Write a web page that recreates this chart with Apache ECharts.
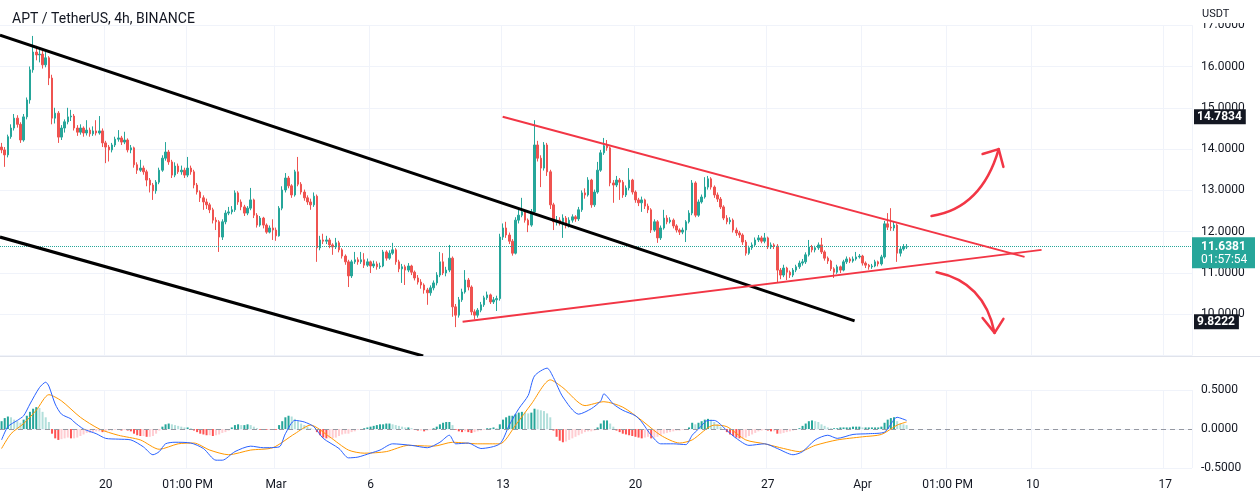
<!DOCTYPE html>
<html>
<head>
<meta charset="utf-8">
<script src="https://cdn.jsdelivr.net/npm/echarts@6/dist/echarts.min.js"></script>
<style>
html,body{margin:0;padding:0;background:#ffffff;}
#c{width:1260px;height:501px;}
</style>
</head>
<body>
<div id="c"></div>
<script>
// ---------- DATA ----------
const chartTitle = 'APT / TetherUS, 4h, BINANCE';
const slotCount = 378;                 // 4h slots shown on the time axis (Feb 14 12:00 .. Apr 18 12:00)
const startTime = Date.UTC(2023, 1, 14, 12);
const timeTicks = [[33,'20'],[59,'01:00 PM'],[87,'Mar'],[117,'6'],[159,'13'],[201,'20'],[243,'27'],[273,'Apr'],[300,'01:00 PM'],[327,'10'],[369,'17']];

const opens = [
14.05,13.98,13.86,14.30,14.51,14.75,14.60,14.22,14.78,15.19,
15.92,16.35,16.28,16.30,16.04,16.21,15.72,14.75,14.87,14.29,
14.51,14.66,14.78,14.80,14.51,14.41,14.51,14.39,14.46,14.37,
14.44,14.39,14.44,14.15,14.05,13.98,14.10,14.24,14.27,14.17,
14.22,13.98,14.03,13.62,13.49,13.54,13.45,13.25,13.13,12.99,
13.20,13.49,13.78,13.93,13.69,13.37,13.59,13.45,13.49,13.37,
13.54,13.45,13.13,12.96,12.82,12.72,12.65,12.53,12.28,12.24,
11.87,12.24,12.45,12.48,12.53,12.94,12.72,12.60,12.45,12.57,
12.77,12.40,12.16,12.33,12.16,11.99,12.09,12.04,11.90,12.57,
13.01,13.30,13.11,12.89,13.45,13.15,12.96,12.82,12.72,12.65,
12.86,11.61,11.80,11.77,11.80,11.68,11.63,11.73,11.56,11.41,
11.27,10.93,11.27,11.32,11.27,11.32,11.19,11.27,11.17,11.22,
11.15,11.17,11.51,11.36,11.48,11.56,11.27,11.10,11.15,11.07,
11.17,11.02,10.88,10.78,10.71,10.59,10.52,10.64,10.76,10.95,
11.27,11.00,11.07,11.36,10.18,9.98,10.35,10.54,10.83,10.66,
10.06,9.98,10.10,10.23,10.40,10.47,10.30,10.35,10.38,11.87,
12.09,11.92,11.77,11.48,12.28,12.40,12.48,12.28,12.16,12.48,
14.10,13.78,13.54,14.10,13.45,12.65,12.24,12.28,12.24,12.33,
12.16,12.28,12.36,12.31,12.53,12.94,12.89,13.25,12.65,12.96,
13.49,13.91,14.08,14.03,13.18,13.13,13.25,13.20,12.89,13.06,
13.25,12.96,12.77,12.70,12.77,12.62,12.53,12.04,12.24,11.85,
12.09,12.33,12.24,12.28,12.14,12.04,11.99,12.04,12.24,12.45,
13.18,12.40,12.72,12.84,13.08,13.28,13.08,12.89,12.79,12.60,
12.33,12.24,12.28,12.04,11.97,11.92,11.75,11.48,11.61,11.68,
11.80,11.85,11.77,11.85,11.63,11.68,11.65,11.07,10.95,11.12,
11.02,10.95,11.07,11.15,11.24,11.27,11.44,11.63,11.56,11.61,
11.68,11.51,11.36,11.29,11.10,11.02,11.15,11.07,11.27,11.34,
11.29,11.34,11.39,11.41,11.24,11.19,11.15,11.17,11.27,11.22,
11.39,12.19,12.11,12.09,12.16,11.48,11.58,11.63];

const closes = [
13.98,13.86,14.30,14.51,14.75,14.60,14.22,14.78,15.19,15.92,
16.35,16.28,16.30,16.04,16.21,15.72,14.75,14.87,14.29,14.51,
14.66,14.78,14.80,14.51,14.41,14.51,14.39,14.46,14.37,14.44,
14.39,14.44,14.15,14.05,13.98,14.10,14.24,14.27,14.17,14.22,
13.98,14.03,13.62,13.49,13.54,13.45,13.25,13.13,12.99,13.20,
13.49,13.78,13.93,13.69,13.37,13.59,13.45,13.49,13.37,13.54,
13.45,13.13,12.96,12.82,12.72,12.65,12.53,12.28,12.24,11.87,
12.24,12.45,12.48,12.53,12.94,12.72,12.60,12.45,12.57,12.77,
12.40,12.16,12.33,12.16,11.99,12.09,12.04,11.90,12.57,13.01,
13.30,13.11,12.89,13.45,13.15,12.96,12.82,12.72,12.65,12.86,
11.61,11.80,11.77,11.80,11.68,11.63,11.73,11.56,11.41,11.27,
10.93,11.27,11.32,11.27,11.32,11.19,11.27,11.17,11.22,11.15,
11.17,11.51,11.36,11.48,11.56,11.27,11.10,11.15,11.07,11.17,
11.02,10.88,10.78,10.71,10.59,10.52,10.64,10.76,10.95,11.27,
11.00,11.07,11.36,10.18,9.98,10.35,10.54,10.83,10.66,10.06,
9.98,10.10,10.23,10.40,10.47,10.30,10.35,10.38,11.87,12.09,
11.92,11.77,11.48,12.28,12.40,12.48,12.28,12.16,12.48,14.10,
13.78,13.54,14.10,13.45,12.65,12.24,12.28,12.24,12.33,12.16,
12.28,12.36,12.31,12.53,12.94,12.89,13.25,12.65,12.96,13.49,
13.91,14.08,14.03,13.18,13.13,13.25,13.20,12.89,13.06,13.25,
12.96,12.77,12.70,12.77,12.62,12.53,12.04,12.24,11.85,12.09,
12.33,12.24,12.28,12.14,12.04,11.99,12.04,12.24,12.45,13.18,
12.40,12.72,12.84,13.08,13.28,13.08,12.89,12.79,12.60,12.33,
12.24,12.28,12.04,11.97,11.92,11.75,11.48,11.61,11.68,11.80,
11.85,11.77,11.85,11.63,11.68,11.65,11.07,10.95,11.12,11.02,
10.95,11.07,11.15,11.24,11.27,11.44,11.63,11.56,11.61,11.68,
11.51,11.36,11.29,11.10,11.02,11.15,11.07,11.27,11.34,11.29,
11.34,11.39,11.41,11.24,11.19,11.15,11.17,11.27,11.22,11.39,
12.19,12.11,12.09,12.16,11.48,11.58,11.63,11.6381];

const highs = [
14.15,14.05,14.35,14.60,14.85,14.82,14.65,14.85,15.25,16.00,
16.74,16.50,16.45,16.38,16.35,16.25,15.80,15.00,14.92,14.58,
14.72,15.00,14.95,14.85,14.58,14.60,14.55,14.70,14.52,14.55,
14.70,14.80,14.50,14.20,14.10,14.15,14.30,14.46,14.32,14.42,
14.26,14.10,14.06,13.68,13.74,13.60,13.50,13.30,13.18,13.25,
13.55,13.85,14.17,13.98,13.74,13.68,13.65,13.60,13.55,13.81,
13.60,13.50,13.18,13.00,12.88,12.80,12.70,12.58,12.35,12.28,
12.30,12.52,12.60,12.62,13.00,12.98,12.78,12.65,12.62,13.06,
12.80,12.45,12.38,12.36,12.20,12.15,12.30,12.10,12.62,13.10,
13.42,13.35,13.15,13.50,13.81,13.20,13.02,12.88,12.80,12.95,
12.90,11.90,11.95,11.90,11.85,11.72,11.85,11.78,11.60,11.45,
11.32,11.32,11.51,11.38,11.51,11.48,11.35,11.30,11.30,11.28,
11.25,11.56,11.55,11.55,11.73,11.60,11.32,11.22,11.20,11.24,
11.20,11.06,10.95,10.85,10.75,10.64,10.70,10.82,11.02,11.51,
11.48,11.15,11.68,11.40,10.25,10.42,10.62,11.07,10.88,10.70,
10.12,10.15,10.30,10.45,10.55,10.50,10.42,10.45,11.95,12.20,
12.24,11.98,11.82,12.35,12.55,12.82,12.52,12.32,12.55,14.70,
14.20,13.85,14.17,14.15,13.50,12.70,12.38,12.35,12.42,12.38,
12.35,12.42,12.40,12.60,13.00,13.05,13.32,13.28,13.02,13.69,
13.98,14.27,14.22,14.06,13.25,13.35,13.30,13.25,13.12,13.54,
13.28,13.00,12.82,12.85,12.80,12.68,12.57,12.30,12.28,12.15,
12.53,12.40,12.35,12.32,12.18,12.08,12.10,12.28,12.52,13.25,
13.22,12.78,12.90,13.32,13.35,13.32,13.12,12.95,12.84,12.64,
12.40,12.35,12.32,12.10,12.02,11.96,11.80,11.66,11.74,11.86,
11.92,11.90,11.97,11.88,11.74,11.72,11.70,11.12,11.20,11.15,
11.06,11.12,11.20,11.30,11.34,11.50,11.80,11.68,11.66,11.74,
11.85,11.55,11.40,11.32,11.14,11.20,11.18,11.32,11.40,11.38,
11.40,11.51,11.46,11.44,11.28,11.22,11.22,11.32,11.30,11.44,
12.26,12.45,12.57,12.25,12.20,11.64,11.70,11.70];

const lows = [
13.90,13.57,13.80,14.25,14.45,14.52,14.15,14.18,14.72,15.10,
15.85,16.15,16.10,15.95,15.98,15.55,14.60,14.62,14.15,14.22,
14.40,14.60,14.68,14.45,14.32,14.35,14.30,14.33,14.30,14.32,
14.33,14.35,14.05,13.66,13.70,13.92,14.05,14.18,14.10,14.12,
13.92,13.90,13.55,13.40,13.45,13.38,13.10,12.95,12.77,12.92,
13.15,13.45,13.72,13.62,13.30,13.32,13.40,13.38,13.30,13.32,
13.38,13.05,12.90,12.72,12.53,12.55,12.45,12.20,12.04,11.51,
11.80,12.18,12.40,12.42,12.48,12.65,12.52,12.38,12.40,12.52,
12.33,12.10,12.12,12.08,11.95,11.96,11.80,11.78,11.88,12.52,
12.95,13.05,12.82,12.85,13.10,12.90,12.75,12.65,12.53,12.60,
11.27,11.55,11.70,11.70,11.60,11.44,11.58,11.50,11.35,11.20,
10.66,10.88,11.22,11.20,11.22,11.12,11.15,11.00,11.12,11.08,
11.10,11.14,11.30,11.32,11.44,11.20,11.02,10.76,10.71,11.02,
10.95,10.82,10.72,10.62,10.50,10.23,10.45,10.58,10.70,10.90,
10.95,10.92,11.02,9.94,9.69,9.92,10.30,10.50,10.58,9.98,
9.88,9.92,10.05,10.18,10.35,10.25,10.25,10.08,10.33,11.80,
11.85,11.70,11.42,11.45,12.20,12.35,12.22,11.99,12.12,12.42,
13.70,13.08,13.48,13.35,12.55,12.04,12.15,12.15,11.85,12.08,
12.10,12.22,12.24,12.26,12.48,12.80,12.85,12.58,12.60,12.92,
13.45,13.86,13.96,13.10,12.70,13.08,12.77,12.82,12.84,13.00,
12.90,12.70,12.62,12.48,12.55,12.45,11.97,12.00,11.73,11.80,
12.05,12.18,12.20,12.08,11.98,11.92,11.94,11.75,12.20,12.40,
12.35,12.36,12.68,12.80,13.02,13.02,12.82,12.72,12.55,12.28,
12.18,12.18,11.98,11.90,11.85,11.68,11.42,11.44,11.56,11.64,
11.75,11.72,11.72,11.58,11.58,11.58,10.78,10.85,10.90,10.83,
10.88,10.90,11.02,11.10,11.18,11.22,11.40,11.50,11.50,11.56,
11.46,11.30,11.22,11.05,10.88,10.98,11.00,11.04,11.22,11.24,
11.25,11.30,11.35,11.18,11.12,11.08,11.10,11.14,11.16,11.18,
11.35,12.04,12.02,12.02,11.27,11.40,11.54,11.58];

// MACD histogram, one value per candle
const histValues = [
0.10,0.14,0.16,0.15,0.12,0.10,0.08,
0.12,0.17,0.22,0.26,0.28,0.27,0.22,
0.15,0.09,
-0.06,-0.12,-0.14,-0.13,-0.12,-0.11,-0.12,-0.12,-0.11,-0.09,-0.07,
-0.05,-0.05,-0.04,-0.03,-0.03,-0.04,-0.03,
-0.02,-0.02,-0.01,-0.01,-0.02,-0.01,-0.02,-0.03,
-0.06,-0.08,-0.09,-0.09,-0.10,-0.10,-0.09,-0.06,-0.02,
0.03,0.06,0.07,0.06,0.05,0.04,0.03,0.02,0.02,0.01,
-0.02,-0.04,-0.06,-0.07,-0.08,-0.08,-0.09,-0.08,-0.07,-0.05,-0.04,-0.02,
0.02,0.05,0.06,0.05,0.05,0.06,0.05,0.03,
0.01,-0.01,0.00,-0.01,-0.01,0.00,-0.01,
0.05,0.10,0.15,0.17,0.16,0.13,0.10,0.07,
0.05,0.03,0.01,0.00,-0.04,
-0.08,-0.11,-0.12,-0.12,-0.12,-0.11,-0.09,-0.07,-0.06,-0.06,-0.04,
-0.03,-0.01,0.00,0.01,0.02,0.03,0.04,
0.05,0.06,0.06,0.07,0.07,0.06,0.05,0.04,0.03,0.02,0.02,0.01,
-0.01,-0.02,-0.02,-0.03,-0.02,-0.01,0.01,0.03,
0.06,0.08,0.09,0.09,0.05,
-0.01,-0.03,-0.04,-0.03,-0.04,-0.05,-0.04,-0.03,-0.02,
-0.01,0.01,0.01,0.02,0.01,0.06,
0.12,0.15,0.17,0.17,0.19,0.21,0.22,0.21,0.20,0.21,
0.26,0.25,0.24,0.23,0.20,0.15,
-0.02,-0.10,-0.15,-0.17,-0.16,-0.14,-0.12,-0.10,-0.08,-0.06,-0.04,-0.03,-0.03,-0.02,
0.02,0.07,0.11,0.11,0.07,0.03,
-0.02,-0.04,-0.06,-0.07,-0.08,-0.09,-0.10,-0.11,-0.12,-0.11,-0.10,-0.12,-0.11,-0.10,
-0.08,-0.06,-0.05,-0.04,-0.03,-0.02,-0.02,-0.01,-0.01,
0.02,0.08,0.06,0.08,0.10,0.12,0.13,0.12,0.09,0.06,0.03,
-0.01,-0.04,-0.07,-0.09,-0.11,-0.12,-0.12,
-0.11,-0.09,-0.07,-0.05,-0.03,-0.02,-0.01,-0.02,
-0.03,-0.03,-0.06,-0.06,-0.05,-0.04,-0.03,-0.02,-0.01,0.01,
0.04,0.07,0.10,0.11,0.10,0.09,0.06,0.04,0.02,
0.01,0.01,0.01,0.02,0.02,0.02,0.02,0.03,0.03,0.03,0.02,0.02,0.02,0.02,0.02,0.02,0.03,
0.08,0.12,0.14,0.15,0.10,0.07,0.06,0.05];

// MACD line and signal line, [candle index, value] read at visible turning points
const macdPoints = [[0,-0.14],[2,0.03],[5,0.11],[7,0.17],[9,0.32],[12,0.53],[14,0.60],[15,0.55],[17,0.32],[19,0.19],[22,0.13],[23,0.09],[26,0.0],[30,-0.06],[33,-0.12],[37,-0.13],[41,-0.14],[45,-0.23],[48,-0.33],[50,-0.29],[52,-0.19],[55,-0.17],[60,-0.18],[64,-0.25],[68,-0.40],[70,-0.40],[74,-0.29],[79,-0.22],[83,-0.24],[88,-0.23],[90,-0.06],[93,0.11],[96,0.09],[99,0.03],[102,-0.12],[107,-0.25],[110,-0.37],[113,-0.36],[117,-0.31],[120,-0.27],[124,-0.19],[130,-0.21],[135,-0.24],[139,-0.17],[142,-0.08],[144,-0.19],[148,-0.18],[152,-0.25],[158,-0.19],[161,0.05],[164,0.26],[167,0.43],[169,0.68],[173,0.78],[175,0.66],[178,0.41],[183,0.19],[187,0.26],[190,0.36],[191,0.45],[194,0.32],[197,0.24],[201,0.17],[203,0.09],[206,-0.08],[209,-0.19],[213,-0.19],[217,-0.20],[219,-0.08],[221,0.0],[224,0.11],[226,0.11],[230,-0.02],[233,-0.12],[237,-0.21],[242,-0.19],[246,-0.25],[251,-0.33],[254,-0.29],[258,-0.14],[262,-0.08],[265,-0.12],[270,-0.07],[275,-0.06],[280,-0.04],[284,0.15],[287,0.11]];
const signalPoints = [[0,-0.25],[3,-0.06],[7,0.07],[11,0.24],[15,0.44],[19,0.36],[25,0.15],[31,0.0],[37,-0.08],[44,-0.14],[50,-0.26],[56,-0.19],[61,-0.18],[66,-0.27],[72,-0.33],[79,-0.27],[86,-0.24],[93,-0.06],[98,0.05],[104,-0.10],[110,-0.27],[115,-0.31],[122,-0.29],[129,-0.21],[137,-0.22],[143,-0.17],[151,-0.19],[158,-0.19],[163,0.05],[168,0.32],[174,0.63],[178,0.53],[185,0.30],[191,0.35],[197,0.28],[203,0.11],[209,-0.08],[215,-0.18],[219,-0.14],[226,0.05],[230,0.03],[236,-0.14],[242,-0.19],[248,-0.25],[253,-0.29],[258,-0.21],[265,-0.14],[273,-0.10],[279,-0.07],[284,0.05],[287,0.09]];

// Drawings: [candle index, price]
const blackUpperLine = [[-0.5,16.76],[270.5,9.84]];
const blackLowerLine = [[-0.5,11.87],[133.7,8.99]];
const redUpperLine = [[158.9,14.7834],[324.4,11.39]];
const redLowerLine = [[146.2,9.8222],[329.8,11.56]];
const upArrowCurve = [[294.9,12.38],[310.8,12.57],[316.2,14.00]];   // start, control, tip
const upArrowHead = [[311.1,13.88],[316.2,14.00],[317.7,13.57]];
const downArrowCurve = [[296.5,11.02],[311.7,10.78],[314.9,9.55]];
const downArrowHead = [[311.1,9.91],[314.9,9.55],[317.7,9.89]];

const lastPrice = 11.6381;
const countdown = '01:57:54';
const markedPrices = [14.7834, 9.8222];

// ---------- CHART ----------
const FONT = 'Roboto, "Open Sans", "Liberation Sans", sans-serif';
const TXT = '#131722';
const GRIDC = '#f0f3fa';
const UP = '#26a69a', DOWN = '#ef5350';
const RED = '#f23645';

const categories = [];
for (let i = 0; i < slotCount; i++) {
  categories.push(new Date(startTime + i * 4 * 3600 * 1000).toISOString());
}
const tickMap = new Map(timeTicks);

const candleData = opens.map((o, i) => [o, closes[i], lows[i], highs[i]]);

function histColor(i) {
  const v = histValues[i], p = i > 0 ? histValues[i - 1] : v;
  if (v >= 0) return v >= p ? '#26a69a' : '#b2dfdb';
  return v < p ? '#ff5252' : '#ffcdd2';
}

const chart = echarts.init(document.getElementById('c'), null, {renderer: 'canvas'});

const catAxisBase = {
  type: 'category', data: categories, boundaryGap: true,
  axisLine: {show: false}, axisTick: {show: false},
  splitLine: {show: true, interval: (i) => tickMap.has(i), lineStyle: {color: GRIDC, width: 1}}
};

const option = {
  animation: false,
  backgroundColor: '#ffffff',
  textStyle: {fontFamily: FONT},
  title: {
    text: chartTitle, left: 7, top: 7,
    textStyle: {fontSize: 14, fontWeight: 'normal', color: TXT, fontFamily: FONT}
  },
  grid: [
    {left: 0, right: 68, top: 25.2, height: 330.4},
    {left: 0, right: 68, top: 390, height: 78}
  ],
  xAxis: [
    Object.assign({}, catAxisBase, {gridIndex: 0, axisLabel: {show: false}}),
    Object.assign({}, catAxisBase, {
      gridIndex: 1,
      axisLabel: {
        show: true, interval: (i) => tickMap.has(i),
        formatter: (v, i) => tickMap.get(i) || '',
        color: TXT, fontSize: 12, margin: 11, fontFamily: FONT
      }
    }),
    {type: 'value', gridIndex: 0, min: -0.5, max: slotCount - 0.5, show: false},
    {type: 'value', gridIndex: 1, min: -0.5, max: slotCount - 0.5, show: false}
  ],
  yAxis: [
    {
      type: 'value', gridIndex: 0, position: 'right', min: 9, max: 17, interval: 1,
      axisLine: {show: false}, axisTick: {show: false},
      splitLine: {lineStyle: {color: GRIDC}},
      axisLabel: {showMinLabel: false, formatter: (v) => v.toFixed(4), color: TXT, fontSize: 12, margin: 9, align: 'left', fontFamily: FONT}
    },
    {
      type: 'value', gridIndex: 1, position: 'right', min: -0.5, max: 0.5, interval: 0.5,
      axisLine: {show: false}, axisTick: {show: false},
      splitLine: {lineStyle: {color: GRIDC}},
      axisLabel: {formatter: (v) => v.toFixed(4), color: TXT, fontSize: 12, margin: 9, align: 'left', fontFamily: FONT}
    }
  ],
  series: [
    {
      type: 'candlestick', xAxisIndex: 0, yAxisIndex: 0, data: candleData,
      barWidth: 2,
      itemStyle: {color: UP, color0: DOWN, borderColor: UP, borderColor0: DOWN, borderWidth: 1},
      markLine: {
        silent: true, symbol: ['none', 'none'], animation: false,
        label: {show: false},
        data: [{yAxis: lastPrice, lineStyle: {color: UP, type: 'dotted', width: 1}}]
      },
      z: 2
    },
    {type: 'line', xAxisIndex: 2, yAxisIndex: 0, data: blackUpperLine, symbol: 'none', lineStyle: {color: '#000000', width: 3}, z: 5, silent: true},
    {type: 'line', xAxisIndex: 2, yAxisIndex: 0, data: blackLowerLine, symbol: 'none', lineStyle: {color: '#000000', width: 3}, z: 5, silent: true},
    {type: 'line', xAxisIndex: 2, yAxisIndex: 0, data: redUpperLine, symbol: 'none', lineStyle: {color: RED, width: 2}, z: 5, silent: true},
    {type: 'line', xAxisIndex: 2, yAxisIndex: 0, data: redLowerLine, symbol: 'none', lineStyle: {color: RED, width: 2}, z: 5, silent: true},
    {
      type: 'bar', xAxisIndex: 1, yAxisIndex: 1, data: histValues, barWidth: 2,
      itemStyle: {color: (p) => histColor(p.dataIndex)},
      markLine: {
        silent: true, symbol: ['none', 'none'], animation: false, label: {show: false},
        data: [{yAxis: 0, lineStyle: {color: '#9598a1', type: [5, 4], width: 1}}]
      }
    },
    {type: 'line', xAxisIndex: 3, yAxisIndex: 1, data: macdPoints, symbol: 'none', smooth: 0.25, clip: false, lineStyle: {color: '#2962ff', width: 1}, z: 4},
    {type: 'line', xAxisIndex: 3, yAxisIndex: 1, data: signalPoints, symbol: 'none', smooth: 0.25, clip: false, lineStyle: {color: '#ff9800', width: 1}, z: 3}
  ]
};
chart.setOption(option);

// ---------- overlay drawings placed through the chart's own coordinate system ----------
const toPx = (pt) => chart.convertToPixel({xAxisIndex: 2, yAxisIndex: 0}, pt);
const up = upArrowCurve.map(toPx), uh = upArrowHead.map(toPx);
const dn = downArrowCurve.map(toPx), dh = downArrowHead.map(toPx);
const axisX = 1192;
const priceY = (p) => toPx([0, p])[1];

const arrowStyle = {stroke: RED, lineWidth: 2.5, fill: null, lineCap: 'round', lineJoin: 'round'};
const graphics = [
  {type: 'line', shape: {x1: 0, y1: 356.5, x2: 1260, y2: 356.5}, style: {stroke: '#e0e3eb', lineWidth: 1}, z: 50},
  {type: 'rect', shape: {x: axisX + 1, y: 0, width: 70, height: 23}, style: {fill: '#ffffff'}, z: 90},
  {type: 'text', x: 1202, y: 14, style: {text: 'USDT', fill: TXT, font: '11px ' + FONT, verticalAlign: 'middle'}, z: 91},
  {type: 'bezierCurve', shape: {x1: up[0][0], y1: up[0][1], cpx1: up[1][0], cpy1: up[1][1], x2: up[2][0], y2: up[2][1]}, style: arrowStyle, z: 60},
  {type: 'polyline', shape: {points: uh}, style: arrowStyle, z: 60},
  {type: 'bezierCurve', shape: {x1: dn[0][0], y1: dn[0][1], cpx1: dn[1][0], cpy1: dn[1][1], x2: dn[2][0], y2: dn[2][1]}, style: arrowStyle, z: 60},
  {type: 'polyline', shape: {points: dh}, style: arrowStyle, z: 60}
];
// price-scale boxes
markedPrices.forEach((p) => {
  const y = priceY(p);
  graphics.push({
    type: 'text', x: axisX + 2, y: y, z: 95,
    style: {text: p.toFixed(4), fill: '#ffffff', font: 'bold 12px ' + FONT, verticalAlign: 'middle',
            backgroundColor: '#131722', padding: [2, 4, 1, 3]}
  });
});
const ly = priceY(lastPrice);
graphics.push({type: 'rect', shape: {x: axisX, y: ly - 9.5, width: 63, height: 31}, style: {fill: UP}, z: 95});
graphics.push({type: 'text', x: 1201, y: ly, z: 96, style: {text: lastPrice.toFixed(4), fill: '#ffffff', font: 'bold 12px ' + FONT, verticalAlign: 'middle'}});
graphics.push({type: 'text', x: 1201, y: ly + 13.5, z: 96, style: {text: countdown, fill: '#ffffff', font: '12px ' + FONT, verticalAlign: 'middle'}});

chart.setOption({graphic: graphics});
</script>
</body>
</html>
